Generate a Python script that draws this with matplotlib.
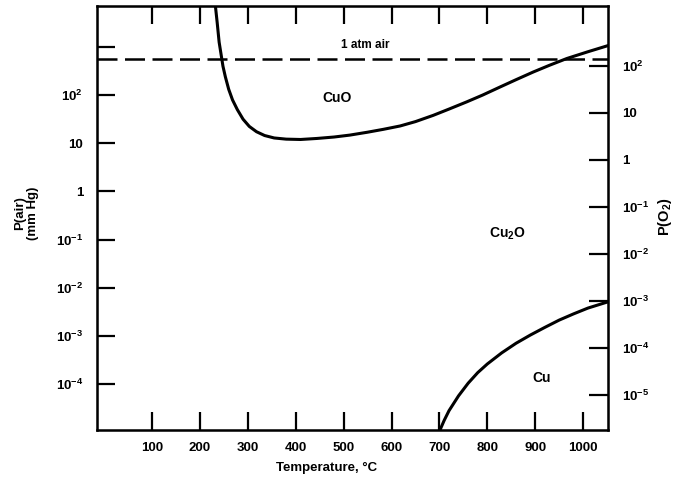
"""
Cu - O stability diagram: P(air) / P(O2) vs temperature.
"""

import matplotlib.pyplot as plt
from matplotlib.ticker import FixedLocator, FixedFormatter, NullLocator

plt.rcParams["font.family"] = ["Liberation Sans", "DejaVu Sans"]
plt.rcParams["font.weight"] = "bold"
plt.rcParams["mathtext.fontset"] = "custom"
plt.rcParams["mathtext.rm"] = "Liberation Sans:bold"
plt.rcParams["mathtext.it"] = "Liberation Sans:bold"
plt.rcParams["mathtext.bf"] = "Liberation Sans:bold"

# CuO / Cu2O boundary (T in C, P(air) in mm Hg)
cuo_T = [232, 236, 240, 244, 248, 253, 260, 268, 278, 290, 303, 318, 335,
         355, 380, 410, 444, 480, 513, 550, 583, 618, 650, 687, 720, 757,
         790, 827, 860, 896, 930, 966, 1010, 1056]
cuo_P = [7413, 3162, 1259, 708, 398, 240, 132, 79.4, 50.1, 31.6, 22.4, 17.4,
         14.5, 12.9, 12.2, 12.0, 12.6, 13.5, 14.8, 17.0, 19.5, 22.9, 28.2,
         38.0, 51.3, 72.4, 100, 148, 209, 302, 417, 575, 794, 1096]

# Cu2O / Cu boundary
cu_T = [699, 710, 720, 740, 760, 780, 800, 830, 860, 890, 920, 950, 980,
        1010, 1052]
cu_P = [1.0e-5, 1.78e-5, 2.82e-5, 5.75e-5, 1.05e-4, 1.74e-4, 2.63e-4,
        4.47e-4, 7.08e-4, 1.05e-3, 1.51e-3, 2.14e-3, 2.88e-3, 3.80e-3,
        5.13e-3]

atm_air = 570  # dashed line level as drawn

x_ticks = [100, 200, 300, 400, 500, 600, 700, 800, 900, 1000]
left_ticks = [1e3, 1e2, 1e1, 1, 1e-1, 1e-2, 1e-3, 1e-4]
left_labels = ["", "$10^2$", "10", "1", "$10^{-1}$", "$10^{-2}$", "$10^{-3}$", "$10^{-4}$"]
right_ticks = [1e2, 1e1, 1, 1e-1, 1e-2, 1e-3, 1e-4, 1e-5]
right_labels = ["$10^2$", "10", "1", "$10^{-1}$", "$10^{-2}$", "$10^{-3}$", "$10^{-4}$", "$10^{-5}$"]

fig = plt.figure(figsize=(6.87, 4.82), dpi=100)
ax = fig.add_axes([0.1412, 0.1079, 0.7438, 0.8797])

ax.plot(cuo_T, cuo_P, color="black", lw=2.2, solid_joinstyle="round")
ax.plot(cu_T, cu_P, color="black", lw=2.2, solid_joinstyle="round")
ax.axhline(atm_air, color="black", lw=1.8, dashes=(8, 3))

ax.set_xlim(-15, 1052)
ax.set_yscale("log")
ax.set_ylim(10 ** -4.95, 10 ** 3.85)

ax.xaxis.set_major_locator(FixedLocator(x_ticks))
ax.xaxis.set_minor_locator(NullLocator())
ax.yaxis.set_major_locator(FixedLocator(left_ticks))
ax.yaxis.set_major_formatter(FixedFormatter(left_labels))
ax.yaxis.set_minor_locator(NullLocator())
ax.tick_params(axis="x", direction="in", length=13, width=1.6, top=True,
               labelsize=9.5, pad=9)
ax.tick_params(axis="y", direction="in", length=13, width=1.6,
               labelsize=9.5, pad=10)
for s in ax.spines.values():
    s.set_linewidth(1.8)

ax2 = ax.twinx()
ax2.set_yscale("log")
ax2.set_ylim(10 ** -5.745, 10 ** 3.277)
ax2.yaxis.set_major_locator(FixedLocator(right_ticks))
ax2.yaxis.set_major_formatter(FixedFormatter(right_labels))
ax2.yaxis.set_minor_locator(NullLocator())
ax2.tick_params(axis="y", direction="in", length=14, width=1.6,
                labelsize=9.5, pad=10)

# region labels
ax.text(545, 1100, "1 atm air", ha="center", va="center", fontsize=8.5)
ax.text(486, 87, "CuO", ha="center", va="center", fontsize=10)
ax.text(841, 0.135, "Cu$_2$O", ha="center", va="center", fontsize=10)
ax.text(914, 1.35e-4, "Cu", ha="center", va="center", fontsize=10)

ax.text(0.45, -0.075, "Temperature, °C", transform=ax.transAxes,
        ha="center", va="top", fontsize=9.5)
ax.text(-0.137, 0.512, "P(air)\n(mm Hg)", transform=ax.transAxes,
        ha="center", va="center", rotation=90, fontsize=9.5, linespacing=1.1)
ax.text(1.111, 0.502, "P(O$_2$)", transform=ax.transAxes,
        ha="center", va="center", rotation=90, fontsize=10.5)

fig.savefig("out.png", dpi=100)
